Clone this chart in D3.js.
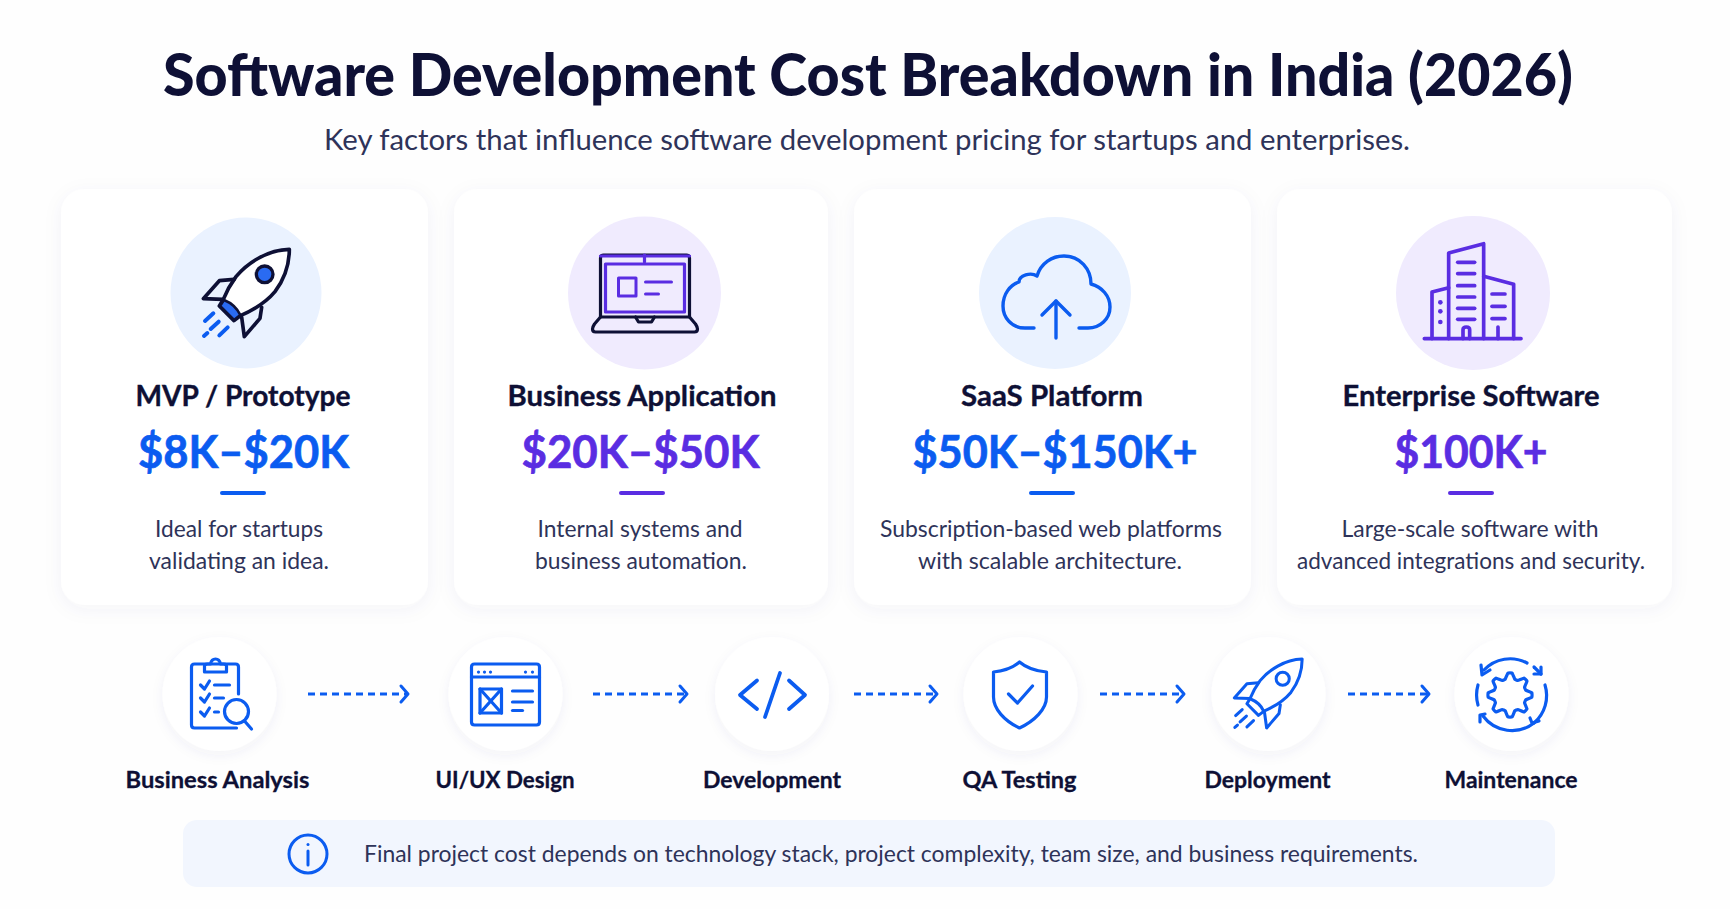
<!DOCTYPE html>
<html>
<head>
<meta charset="utf-8">
<title>Software Development Cost Breakdown in India (2026)</title>
<script src="https://cdn.jsdelivr.net/npm/d3@7"></script>
<style>
  html, body { margin: 0; padding: 0; background: #fefefe; }
  svg { display: block; }
  text { font-family: Lato, "Noto Sans", sans-serif; }
</style>
</head>
<body>
<div id="wrapper"></div>
<script>
/* DATA */
const chartTitle = 'Software Development Cost Breakdown in India (2026)';
const chartSubtitle = 'Key factors that influence software development pricing for startups and enterprises.';
const cardTitles = ['MVP / Prototype', 'Business Application', 'SaaS Platform', 'Enterprise Software'];
const cardPrices = ['$8K–$20K', '$20K–$50K', '$50K–$150K+', '$100K+'];
const cardLines1 = ['Ideal for startups', 'Internal systems and', 'Subscription-based web platforms', 'Large-scale software with'];
const cardLines2 = ['validating an idea.', 'business automation.', 'with scalable architecture.', 'advanced integrations and security.'];
const stepLabels = ['Business Analysis', 'UI/UX Design', 'Development', 'QA Testing', 'Deployment', 'Maintenance'];
const noteText = 'Final project cost depends on technology stack, project complexity, team size, and business requirements.';

/* LAYOUT */
const width = 1730;
const height = 909;
const blue = '#0b5cf0';
const purple = '#5a2de2';
const ink = '#0e1035';
const slate = '#2e3359';

const cardLeft = d3.scaleOrdinal().domain(cardTitles).range([61, 454, 854, 1277]);
const cardRight = d3.scaleOrdinal().domain(cardTitles).range([428, 828, 1251, 1672]);
const cardIconX = d3.scaleOrdinal().domain(cardTitles).range([246, 644.5, 1055, 1473]);
const cardIconR = d3.scaleOrdinal().domain(cardTitles).range([75.5, 76.5, 76, 77]);
const cardTextX = d3.scaleOrdinal().domain(cardTitles).range([243, 642, 1052, 1471]);
const stepX = d3.scaleOrdinal().domain(stepLabels).range([219.5, 505.5, 772, 1020.5, 1268.5, 1511.5]);
const arrowStart = [308, 593, 854, 1100, 1348];
const arrowEnd = [408, 687, 937, 1184, 1429];

const svg = d3.select('#wrapper')
  .append('svg')
  .attr('width', width)
  .attr('height', height);

const defs = svg.append('defs');
const shadow = (id, dev, op) => defs.append('filter')
  .attr('id', id)
  .attr('x', '-30%').attr('y', '-30%').attr('width', '160%').attr('height', '160%')
  .append('feDropShadow')
  .attr('dx', 0).attr('dy', 4)
  .attr('stdDeviation', dev)
  .attr('flood-color', '#3a4a8c')
  .attr('flood-opacity', op);
shadow('card-shadow', 9, 0.05);
shadow('step-shadow', 6, 0.06);

svg.append('rect').attr('width', width).attr('height', height).attr('fill', '#fefefe');

const label = (parent, str, x, y, size, weight, fill, fit, bold) => {
  const t = parent.append('text')
    .attr('x', x).attr('y', y)
    .attr('text-anchor', 'middle')
    .attr('font-size', size)
    .attr('font-weight', weight)
    .attr('fill', fill)
    .text(str);
  if (fit) t.attr('textLength', fit).attr('lengthAdjust', 'spacingAndGlyphs');
  if (bold) t.attr('stroke', fill).attr('stroke-width', bold);
  return t;
};

/* HEADER */
label(svg, chartTitle, 868, 96, 59, 900, ink, 1410);
label(svg, chartSubtitle, 867, 150, 28.5, 400, slate, 1086);

/* CARDS */
const titleWidths = [215, 269, 182, 257];
const priceWidths = [211, 238, 285, 153];
const priceX = [243.5, 640.5, 1055, 1471];
const line1Widths = [168, 205, 342, 257];
const line2Widths = [180, 212, 264, 348];
const line1X = [239, 640, 1051, 1470];
const line2X = [239, 641, 1050, 1471];

const cards = svg.append('g')
  .selectAll('g')
  .data(cardTitles)
  .join('g');

cards.append('rect')
  .attr('x', d => cardLeft(d))
  .attr('y', 189)
  .attr('width', d => cardRight(d) - cardLeft(d))
  .attr('height', 416)
  .attr('rx', 24)
  .attr('fill', '#fff')
  .attr('filter', 'url(#card-shadow)');

cards.append('circle')
  .attr('cx', d => cardIconX(d))
  .attr('cy', 293)
  .attr('r', d => cardIconR(d))
  .attr('fill', (d, i) => i % 2 ? '#f0ebfe' : '#eaf2ff');

cards.each(function (d, i) {
  const g = d3.select(this);
  const accent = i % 2 ? purple : blue;
  label(g, d, cardTextX(d), 406, 28, 700, ink, titleWidths[i], 0.35);
  label(g, cardPrices[i], priceX[i], 468, 46, 700, accent, priceWidths[i], 0.7);
  g.append('rect')
    .attr('x', cardTextX(d) - 23).attr('y', 491)
    .attr('width', 46).attr('height', 4)
    .attr('rx', 2)
    .attr('fill', accent);
  label(g, cardLines1[i], line1X[i], 537, 22.5, 400, slate, line1Widths[i]);
  label(g, cardLines2[i], line2X[i], 569, 22.5, 400, slate, line2Widths[i]);
});

/* ICONS */
const stroke = (g, color, w) => g.attr('fill', 'none').attr('stroke', color)
  .attr('stroke-width', w).attr('stroke-linecap', 'round').attr('stroke-linejoin', 'round');
const paths = (g, list) => list.forEach(d => g.append('path').attr('d', d));

const rocketBody = 'M388,118 C320,120 262,160 228,200 C212,222 198,248 190,268 L178,288 L222,332 L243,316 C280,300 320,275 345,245 C375,205 388,160 388,118 Z';
const rocketFins = ['M222,208 L178,212 L130,266 L188,268', 'M305,292 L300,325 L253,380 L245,322'];
const rocketFlame = ['M135,333 L160,310', 'M152,357 L176,335', 'M178,376 L203,352', 'M132,378 L142,369'];

// hero rocket
const rocket = svg.append('g')
  .attr('transform', `translate(245.5,293) scale(0.3333) translate(-256.5,-249)`);
rocket.append('path').attr('d', rocketBody).attr('fill', '#fff');
stroke(rocket.append('g'), ink, 11).call(paths, [rocketBody, ...rocketFins]);
rocket.append('path').attr('d', 'M192,270 L180,288 L222,330 L241,315 C232,296 212,278 192,270 Z')
  .attr('fill', '#2a6bf2').attr('stroke', ink).attr('stroke-width', 8).attr('stroke-linejoin', 'round');
rocket.append('circle').attr('cx', 314).attr('cy', 193).attr('r', 25)
  .attr('fill', '#2a6bf2').attr('stroke', ink).attr('stroke-width', 10);
stroke(rocket.append('g'), blue, 12).call(paths, rocketFlame);

// laptop
const laptop = svg.append('g').attr('transform', `translate(${cardIconX(cardTitles[1])},293)`);
stroke(laptop.append('g'), ink, 3.2).call(paths, [
  'M-44,24 V-35 Q-44,-38 -41,-38 H42 Q45,-38 45,-35 V24',
  'M-44,24 L-50,31 Q-52,34 -52,36 Q-52,39 -49,39 H50 Q53,39 53,36 Q53,34 51,31 L45,24 Z',
  'M-9,24 L-6,29 H7 L10,24'
]);
stroke(laptop.append('g'), purple, 3.2).call(paths, [
  'M-39,-29 H40 V19 H-39 Z',
  'M-44,-37 H45',
  'M0,-38 V-31'
]);
stroke(laptop.append('g'), purple, 3).call(paths, [
  'M-26,-15 H-8.5 V3 H-26 Z',
  'M1,-11 H27',
  'M1,1 H14'
]);

// cloud
const cloud = svg.append('g').attr('transform', `translate(${cardIconX(cardTitles[2])},293)`);
stroke(cloud, blue, 3.4).call(paths, [
  'M-21,35 L-30,35 C-44,35 -52,24 -52,13 C-52,1 -45,-8 -36,-11 C-36,-18 -24,-21 -18,-17 C-14,-30 -3,-37 9,-37 C25,-37 36,-24 36,-9 C47,-6 55,3 55,14 C55,26 45,35 33,35 L24,35',
  'M1,45 V8',
  'M-13,22 L1,8 L15,22'
]);

// buildings
const tower = svg.append('g')
  .attr('transform', `translate(${cardIconX(cardTitles[3])},293) scale(0.3333) translate(-248,-248)`);
stroke(tower.append('g'), purple, 11).call(paths, [
  'M102,385 H392',
  'M175,385 V128 L280,100 V385',
  'M280,198 L370,222 V385',
  'M175,232 L125,245 V385',
  'M218,385 V358 Q218,350 228,350 Q238,350 238,358 V385',
  'M323,350 V385',
  'M202,156 H253', 'M202,190 H253', 'M202,226 H253', 'M202,260 H253', 'M202,294 H253', 'M202,327 H253',
  'M305,251 H344', 'M305,288 H344', 'M305,325 H344',
  'M150,276 V276.1', 'M150,303 V303.1', 'M150,335 V335.1'
]);
tower.selectAll('path').filter((d, i) => i >= 15).attr('stroke-width', 14);

/* PROCESS */
const steps = svg.append('g')
  .selectAll('g')
  .data(stepLabels)
  .join('g');

steps.append('circle')
  .attr('cx', d => stepX(d))
  .attr('cy', 694)
  .attr('r', 57)
  .attr('fill', '#fff')
  .attr('filter', 'url(#step-shadow)');

const stepWidths = [184, 139, 138, 114, 126, 133];
const stepLabelX = [217.5, 505, 772, 1019.5, 1267.5, 1511];
steps.each(function (d, i) {
  label(d3.select(this), d, stepLabelX[i], 788, 23, 700, ink, stepWidths[i], 0.3);
});

const arrows = svg.append('g')
  .selectAll('g')
  .data(arrowStart)
  .join('g');
arrows.append('line')
  .attr('x1', d => d)
  .attr('x2', (d, i) => arrowEnd[i] - 2)
  .attr('y1', 694).attr('y2', 694)
  .attr('stroke', blue)
  .attr('stroke-width', 3)
  .attr('stroke-dasharray', '7 5');
arrows.append('path')
  .attr('d', (d, i) => d3.line()([[arrowEnd[i] - 7, 686], [arrowEnd[i], 694], [arrowEnd[i] - 7, 702]]))
  .call(stroke, blue, 3);

const iconAt = name => stroke(svg.append('g'), blue, 3.2)
  .attr('transform', `translate(${stepX(name)},694)`);

paths(iconAt(stepLabels[0]), [
  'M19,0 V-27 Q19,-30 16,-30 H-25 Q-28,-30 -28,-27 V31 Q-28,34 -25,34 H17',
  'M-15,-22 H7 V-28 Q7,-30 4,-30 H1 Q0,-35 -4,-35 Q-8,-35 -9,-30 H-12 Q-15,-30 -15,-28 Z',
  'M-19,-9 L-15,-5 L-10,-13', 'M-19,4 L-15,8 L-10,0', 'M-19,18 L-15,22 L-10,14',
  'M-5,-9 H10', 'M-5,4 H4', 'M-5,18 H-1',
  'M29,17.5 A12,12 0 1 1 5,17.5 A12,12 0 1 1 29,17.5 Z',
  'M25,27 L32,35'
]);

paths(iconAt(stepLabels[1]), [
  'M-34,-27 Q-34,-30 -31,-30 H31 Q34,-30 34,-27 V28 Q34,31 31,31 H-31 Q-34,31 -34,28 Z',
  'M-34,-17 H34',
  'M-27,-22 V-21.9', 'M-21,-22 V-21.9', 'M-15,-22 V-21.9', 'M20,-22 V-21.9', 'M27,-22 V-21.9',
  'M-25.5,-5 H-4 V19 H-25.5 Z',
  'M-25.5,-5 L-4,19', 'M-4,-5 L-25.5,19',
  'M7,-3 H27', 'M7,8 H27', 'M7,16.5 H17'
]);

paths(iconAt(stepLabels[2]).attr('stroke-width', 3.8), [
  'M-15,-13.5 L-32,1 L-15,15',
  'M17,-13.5 L33,1 L17,15',
  'M8,-21 L-7,23'
]);

paths(iconAt(stepLabels[3]), [
  'M-1,-32 C-8,-26 -17,-23 -27,-22 V3 C-27,15 -16,27 -1,34 C14,27 26,15 26,3 V-22 C15,-23 6,-26 -1,-32 Z',
  'M-12,0 L-3,9 L12,-8'
]);

const deploy = stroke(svg.append('g'), blue, 11.5)
  .attr('transform', `translate(${stepX(stepLabels[4])},693.5) scale(0.263) translate(-260,-249)`);
paths(deploy, [rocketBody, ...rocketFins, ...rocketFlame, 'M192,270 C212,278 232,296 241,315']);
deploy.append('circle').attr('cx', 314).attr('cy', 193).attr('r', 25);

const gearRadii = [];
d3.range(8).forEach(() => gearRadii.push(22, 22, 16.5, 16.5));
const gearLine = d3.lineRadial()
  .angle((r, i) => (i - 0.5) * Math.PI / 16)
  .radius(r => r)
  .curve(d3.curveCardinalClosed.tension(0.8));
const care = iconAt(stepLabels[5]);
care.attr('transform', 'translate(1510,695)');
care.append('path').attr('d', gearLine(gearRadii));
paths(care, [
  'M-26,-25 A36,36 0 0 1 17,-32',
  'M-29,-30 L-28,-20 L-20,-25',
  'M24,-28 L31,-21', 'M24,-21 H31 V-28',
  'M35,-10 A36,36 0 0 1 24,28',
  'M20,23 L22,28 L29,26',
  'M24,28 A36,36 0 0 1 -27,21',
  'M-25,19 L-30,20 L-30,27',
  'M-32,-10 A36,36 0 0 0 -32,10'
]);

/* NOTE */
svg.append('rect')
  .attr('x', 183).attr('y', 820)
  .attr('width', 1372).attr('height', 67)
  .attr('rx', 14)
  .attr('fill', '#f2f6fe');

const info = stroke(svg.append('g'), blue, 3)
  .attr('transform', 'translate(308,854)');
info.append('circle').attr('r', 19);
info.append('path').attr('d', 'M0,-3 V11');
info.append('path').attr('d', 'M0,-9.5 V-9.4');

label(svg, noteText, 891, 862, 23, 400, slate, 1054);
</script>
</body>
</html>
